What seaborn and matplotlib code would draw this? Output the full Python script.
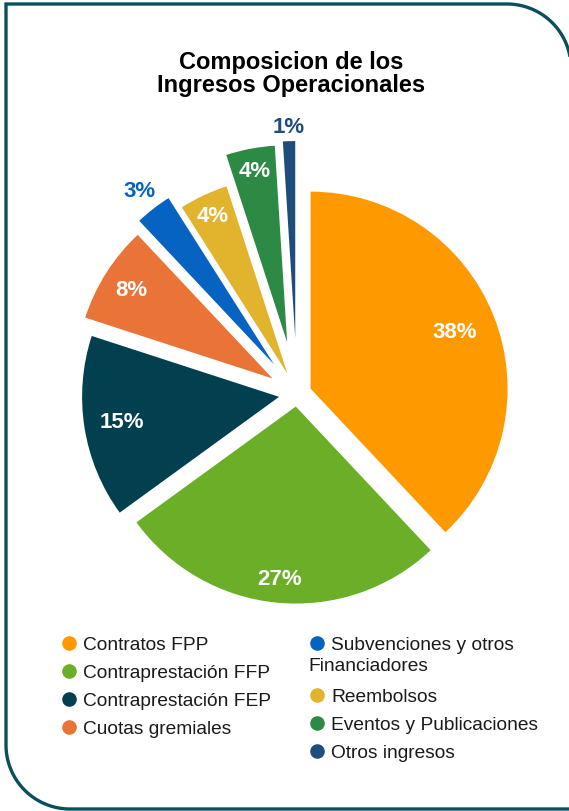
import numpy as np
import matplotlib
matplotlib.use("Agg")
import matplotlib.pyplot as plt
import seaborn as sns
from matplotlib.path import Path
from matplotlib.patches import PathPatch
from matplotlib.lines import Line2D

# data
categorias = ["Contratos FPP", "Contraprestación FFP", "Contraprestación FEP",
              "Cuotas gremiales", "Subvenciones y otros Financiadores",
              "Reembolsos", "Eventos y Publicaciones", "Otros ingresos"]
porcentajes = [38, 27, 15, 8, 3, 4, 4, 1]
etiquetas = ["38%", "27%", "15%", "8%", "3%", "4%", "4%", "1%"]
colores = ["#FF9900", "#6BAE27", "#03404F", "#EA7337",
           "#0763C1", "#E2B42E", "#2C8A44", "#1F4D7B"]

# style
radio = 197
explode = [0.074, 0.064, 0.092, 0.147, 0.19, 0.114, 0.267, 0.284]
dist_etiqueta = [0.786, 0.877, 0.81, 0.847, 1.118, 0.89, 0.888, 1.076]
fuera = [False, False, False, False, True, False, False, True]
borde = "#0B4F5C"
texto = "#1A1A1A"

sns.set_style("white")
plt.rcParams["font.family"] = ["Liberation Sans", "DejaVu Sans"]

W, H = 569, 812
fig = plt.figure(figsize=(W / 100, H / 100), dpi=100)
ax = fig.add_axes([0, 0, 1, 1])

# matplotlib explode is in data units, so scale by the radius
wedges, _ = ax.pie(porcentajes, colors=colores, startangle=90, counterclock=False,
                   explode=[e * radio for e in explode], radius=radio,
                   center=(297, H - 395), wedgeprops=dict(linewidth=0))
ax.set_xlim(0, W)
ax.set_ylim(0, H)
ax.set_aspect("equal")
ax.axis("off")

# percentage labels
for w, txt, d, out, c in zip(wedges, etiquetas, dist_etiqueta, fuera, colores):
    ang = np.deg2rad((w.theta1 + w.theta2) / 2)
    x = w.center[0] + d * w.r * np.cos(ang)
    y = w.center[1] + d * w.r * np.sin(ang)
    ax.text(x, y, txt, ha="center", va="center", fontsize=16, fontweight="bold",
            color=c if out else "white",
            family=["Liberation Sans Narrow", "Liberation Sans", "DejaVu Sans"])

# title
ax.text(291, H - 74, "Composicion de los\nIngresos Operacionales", ha="center",
        va="center", fontsize=17, fontweight="bold", linespacing=1.0, color="black")

# legend: two columns, the long label wraps under its marker like the original
handles = [Line2D([], [], marker="o", linestyle="none", markersize=10.5,
                  markerfacecolor=c, markeredgewidth=0) for c in colores]
vacio = Line2D([], [], linestyle="none")
sub = categorias[4].split(" Financiadores")[0]
h_leg = handles[:4] + [vacio] + [handles[4], vacio] + handles[5:]
l_leg = categorias[:4] + [" "] + [sub, " "] + categorias[5:]
leg = ax.legend(h_leg, l_leg, ncol=2, loc="upper left", frameon=False,
                bbox_to_anchor=(61 / W, 1 - 637 / H), bbox_transform=fig.transFigure,
                fontsize=13.8, handlelength=0.85, handletextpad=0.3, columnspacing=1.98,
                labelspacing=0.55, borderpad=0, borderaxespad=0, labelcolor=texto)
leg.get_texts()[6].set_fontsize(1)  # spacer row for the wrapped line
fig.canvas.draw()
bb = leg.get_texts()[5].get_window_extent()
ax.text(bb.x0 - 23, (bb.y0 + bb.y1) / 2 - 21, "Financiadores", ha="left", va="center",
        fontsize=13.8, color=texto)

# rounded frame
r = 64
def arco(cx, cy, a0, a1, n=40):
    t = np.deg2rad(np.linspace(a0, a1, n))
    return list(zip(cx + r * np.cos(t), cy + r * np.sin(t)))

verts = [(W + 20, 2)]
verts += arco(6 + r, 2 + r, 270, 180)
verts += [(6, H - 5)]
verts += [(507, H - 5)]
verts += arco(507, H - 5 - r, 90, 0)
verts += [(571, -20)]
codes = [Path.MOVETO] + [Path.LINETO] * (len(verts) - 1)
ax.add_patch(PathPatch(Path(verts, codes), fill=False, edgecolor=borde,
                       linewidth=2.4, clip_on=False))

fig.savefig("out.png", dpi=100)
